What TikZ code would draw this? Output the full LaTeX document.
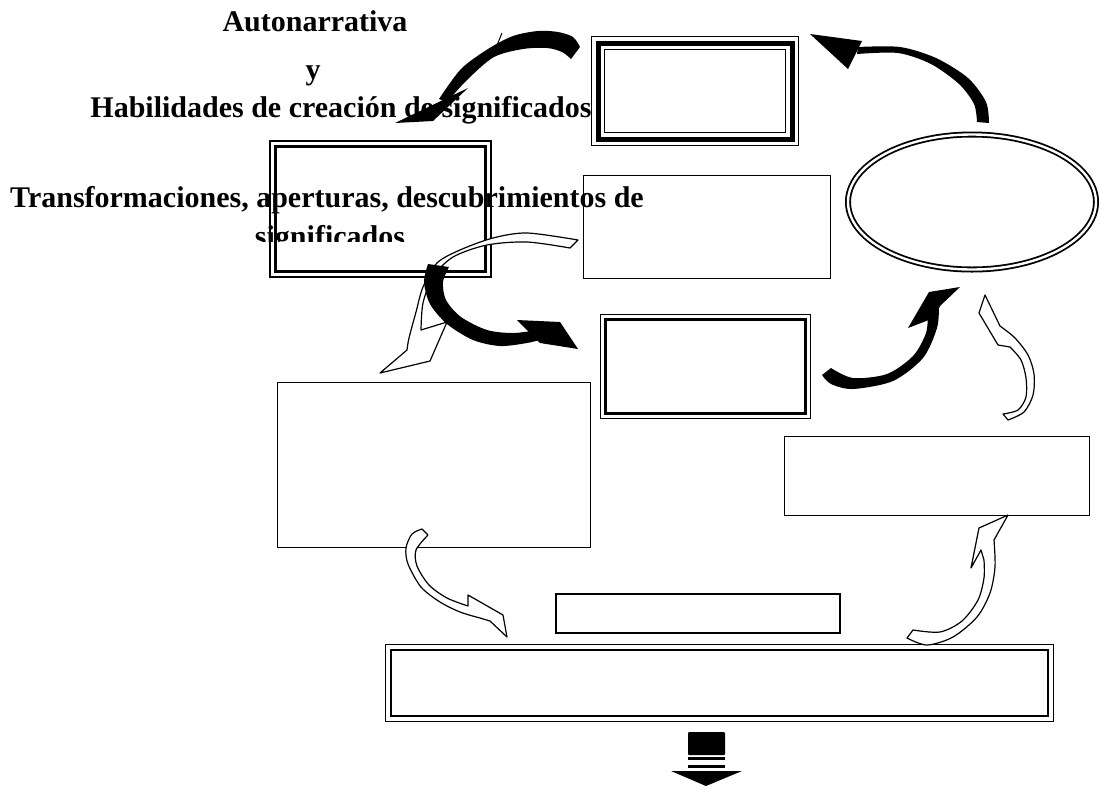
\documentclass[tikz,border=0pt]{standalone}
\usepackage{fontspec}
\setmainfont{Liberation Serif}
\usetikzlibrary{shapes.geometric}

\begin{document}
\begin{tikzpicture}[x=1pt,y=-1pt]
    \tikzstyle{caja}=[draw, line width=1.5pt, inner sep=0pt, outer sep=0pt]
    \tikzstyle{doble}=[caja, line width=1.3pt]
    \tikzstyle{rotulo}=[font=\fontsize{30}{32}\selectfont\bfseries, inner sep=0pt, anchor=base]
    \tikzstyle{hueca}=[draw, fill=white, line width=1.2pt, line join=round]
    \useasboundingbox (0,0) rectangle (1101,788);

    % textos
    \node[rotulo] (autonarr) at (315,31) {Autonarrativa};
    \node[rotulo] (conj) at (313,79) {y};
    \node[rotulo] (habilid) at (341,117) {Habilidades de creación de significados};
    \node[rotulo] (transf) at (327,207) {Transformaciones, aperturas, descubrimientos de};
    \begin{scope}
        \clip (150,212) rectangle (500,241);
        \node[rotulo] (transfb) at (330,246) {significados};
    \end{scope}

    % cajas
    \node[caja, fill=white, minimum width=207, minimum height=109] (trip) at (695,91) {};
    \draw[line width=5pt] ([shift={(6.5pt,-6.5pt)}]trip.north west) rectangle ([shift={(-6.5pt,6.5pt)}]trip.south east);
    \draw[line width=1.5pt] ([shift={(13pt,-13pt)}]trip.north west) rectangle ([shift={(-13pt,13pt)}]trip.south east);

    \node[doble, minimum width=221, minimum height=136] (habil) at (380.5,209) {};
    \draw[line width=2.6pt] ([shift={(5.5pt,-5.5pt)}]habil.north west) rectangle ([shift={(-5.5pt,5.5pt)}]habil.south east);

    \node[caja, minimum width=247, minimum height=103] (signif) at (707,227) {};

    \node[ellipse, draw, double, line width=1.8pt, double distance=2.4pt, inner sep=0pt,
          minimum width=248, minimum height=135] (ovalo) at (972,202) {};

    \node[doble, minimum width=210, minimum height=104] (centro) at (705.5,366.5) {};
    \draw[line width=2.5pt] ([shift={(5pt,-5pt)}]centro.north west) rectangle ([shift={(-5pt,5pt)}]centro.south east);

    \node[caja, minimum width=313, minimum height=165] (grande) at (434,465) {};
    \node[caja, minimum width=305, minimum height=79] (derecha) at (937,476) {};
    \node[caja, line width=2pt, minimum width=284, minimum height=39] (barra) at (697.5,613) {};

    \node[doble, minimum width=668, minimum height=77] (cierre) at (719.5,683) {};
    \draw[line width=2.5pt] ([shift={(5.5pt,-5.5pt)}]cierre.north west) rectangle ([shift={(-5.5pt,5.5pt)}]cierre.south east);

    % flechas huecas
    \filldraw[hueca] plot[smooth] coordinates {(578,240) (527,233) (493,238) (460,250) (437,263) (423,287) (416,312) (409,338) (407,350)}
        -- (380,373) -- (430,361) -- (447,322)
        -- plot[smooth] coordinates {(421,330) (423,303) (433,277) (453,257) (487,245) (527,242) (570,248)} -- cycle;
    \filldraw[hueca] plot[smooth] coordinates {(1008,420) (1024,412) (1033,395) (1034,374) (1028,355) (1015,338) (1000,326)}
        -- (985,295) -- (979,313) -- (998,345)
        -- plot[smooth] coordinates {(1010,347) (1021,360) (1026,378) (1026,397) (1018,410) (1003,414)} -- cycle;
    \filldraw[hueca] plot[smooth] coordinates {(422,529) (412,534) (406,548) (408,564) (421,587) (440,602) (460,612) (480,618)}
        -- (490,621) -- (507,637) -- (503,615) -- (468,595)
        -- plot[smooth] coordinates {(468,606) (447,598) (429,585) (417,566) (416,550) (428,535)} -- cycle;
    \filldraw[hueca] plot[smooth] coordinates {(907,638) (927,645) (953,637) (977,617) (990,593) (995,567) (994,540)}
        -- (1008,515) -- (979,528) -- (971,568) -- (981,550)
        -- plot[smooth] coordinates {(984,560) (984,578) (978,600) (962,621) (940,632) (913,630)} -- cycle;

    % flechas negras
    \fill plot[smooth] coordinates {(580,47) (573,37) (558,32) (538,31) (513,36) (488,49) (461,69) (439,99)}
        -- plot[smooth] coordinates {(447,102) (468,79) (494,57) (523,49) (547,48) (562,52) (571,59)} -- cycle;
    \fill (468,88) -- (395,123) -- (433,121) -- cycle;
    \draw[line width=1pt] (502,33) -- (493,55);

    \fill plot[smooth] coordinates {(989,123) (986,102) (968,78) (936,58) (900,47) (858,47)}
        -- plot[smooth] coordinates {(857,54) (898,53) (931,64) (959,84) (974,104) (977,122)} -- cycle;
    \fill (810,34) -- (862,41) -- (848,69) -- cycle;

    \fill plot[smooth] coordinates {(428,264) (424,282) (430,304) (447,324) (473,340) (500,346) (527,343) (543,339)}
        -- plot[smooth] coordinates {(538,330) (513,333) (487,330) (461,317) (446,300) (443,282) (449,267)} -- cycle;
    \fill (517,320) -- (560,322) -- (578,349) -- (540,343) -- cycle;

    \fill plot[smooth] coordinates {(822,375) (831,384) (853,389) (893,381) (923,358) (937,328) (939,305)}
        -- plot[smooth] coordinates {(928,312) (926,333) (913,356) (887,374) (853,378) (831,368)} -- cycle;
    \fill (908,328) -- (929,292) -- (960,287) -- (940,306) -- (934,318) -- cycle;

    % flecha de salida
    \fill[rounded corners=1pt] (688,732) rectangle (725,755);
    \fill (688,757) rectangle (725,760);
    \fill (688,765) rectangle (725,768);
    \fill (671,771) -- (742,771) -- (706,786) -- cycle;
\end{tikzpicture}
\end{document}
